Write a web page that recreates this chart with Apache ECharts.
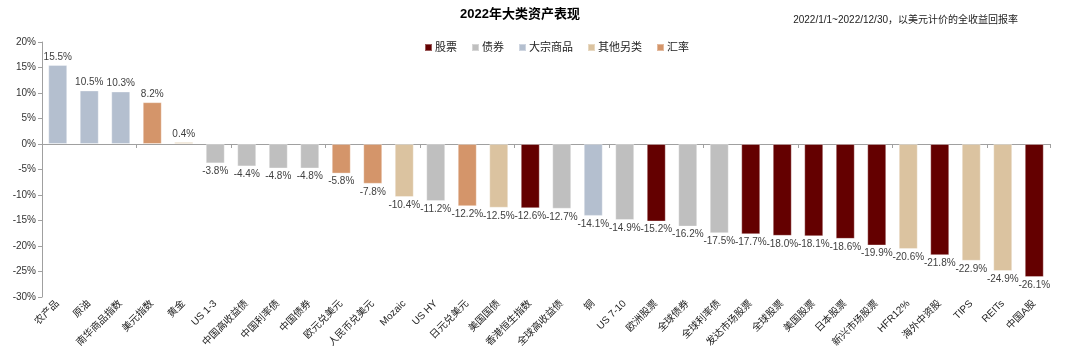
<!DOCTYPE html>
<html><head><meta charset="utf-8">
<script src="https://cdn.jsdelivr.net/npm/echarts@6/dist/echarts.min.js"></script>
<style>html,body{margin:0;padding:0;background:#fff}#c{width:1080px;height:358px}</style>
</head><body><div id="c"></div>
<script>
const categories = ['农产品','原油','南华商品指数','美元指数','黄金','US 1-3','中国高收益债','中国利率债','中国债券','欧元兑美元','人民币兑美元','Mozaic','US HY','日元兑美元','美国国债','香港恒生指数','全球高收益债','铜','US 7-10','欧洲股票','全球债券','全球利率债','发达市场股票','全球股票','美国股票','日本股票','新兴市场股票','HFR12%','海外中资股','TIPS','REITs','中国A股'];
const values = [15.5,10.5,10.3,8.2,0.4,-3.8,-4.4,-4.8,-4.8,-5.8,-7.8,-10.4,-11.2,-12.2,-12.5,-12.6,-12.7,-14.1,-14.9,-15.2,-16.2,-17.5,-17.7,-18.0,-18.1,-18.6,-19.9,-20.6,-21.8,-22.9,-24.9,-26.1];
const groups = ['大宗商品','大宗商品','大宗商品','汇率','其他另类','债券','债券','债券','债券','汇率','汇率','其他另类','债券','汇率','其他另类','股票','债券','大宗商品','债券','股票','债券','债券','股票','股票','股票','股票','股票','其他另类','股票','其他另类','其他另类','股票'];
const groupNames = ['股票','债券','大宗商品','其他另类','汇率'];
const groupColors = ['#640000','#bfbfbf','#b4bfcf','#dbc3a0','#d4956a'];
const yTicks = {min:-30, max:20, interval:5};

const FONT = '"Liberation Sans","Noto Sans CJK SC",sans-serif';
const series = groupNames.map((g,gi)=>({
  name:g, type:'bar', barWidth:19, barGap:'-100%', xAxisIndex:0,
  itemStyle:{color:groupColors[gi], borderColor:'rgba(255,255,255,0.35)', borderWidth:1},
  label:{show:true, color:'#404040', fontSize:10, fontFamily:FONT, distance:3,
    formatter:p=>p.value.toFixed(1)+'%'},
  data: values.map((v,i)=> groups[i]===g ? {value:v, label:{position: v>=0?'top':'bottom'}} : '-')
}));

const chart = echarts.init(document.getElementById('c'));
chart.setOption({
  animation:false,
  textStyle:{fontFamily:FONT},
  title:[
    {text:'2022年大类资产表现', left:455, top:3, textStyle:{fontSize:13, fontWeight:'bold', color:'#000', fontFamily:FONT}},
    {text:'2022/1/1~2022/12/30，以美元计价的全收益回报率', right:57, top:10, textStyle:{fontSize:10, fontWeight:'normal', color:'#222', fontFamily:FONT}}
  ],
  legend:{data:groupNames, top:37, left:419, icon:'rect', itemWidth:7, itemHeight:7, itemGap:14,
    textStyle:{fontSize:11, color:'#222', fontFamily:FONT, padding:[0,0,0,-2]}},
  grid:{left:42, right:30, top:42, bottom:61},
  xAxis:[
    {type:'category', data:categories, boundaryGap:true,
     axisLine:{onZero:true, lineStyle:{color:'#a0a0a0'}},
     axisTick:{show:true, length:4, lineStyle:{color:'#a0a0a0'}},
     axisLabel:{show:false}},
    {type:'category', data:categories, position:'bottom', boundaryGap:true,
     axisLine:{show:false}, axisTick:{show:false},
     axisLabel:{show:true, rotate:45, interval:0, fontSize:10, color:'#222', margin:5, fontFamily:FONT}}
  ],
  yAxis:{type:'value', min:yTicks.min, max:yTicks.max, interval:yTicks.interval,
    axisLine:{show:true, lineStyle:{color:'#a0a0a0'}},
    axisTick:{show:true, length:4, lineStyle:{color:'#a0a0a0'}},
    splitLine:{show:false},
    axisLabel:{formatter:'{value}%', fontSize:10, color:'#333', margin:6, fontFamily:FONT}},
  series: series
});
</script></body></html>
